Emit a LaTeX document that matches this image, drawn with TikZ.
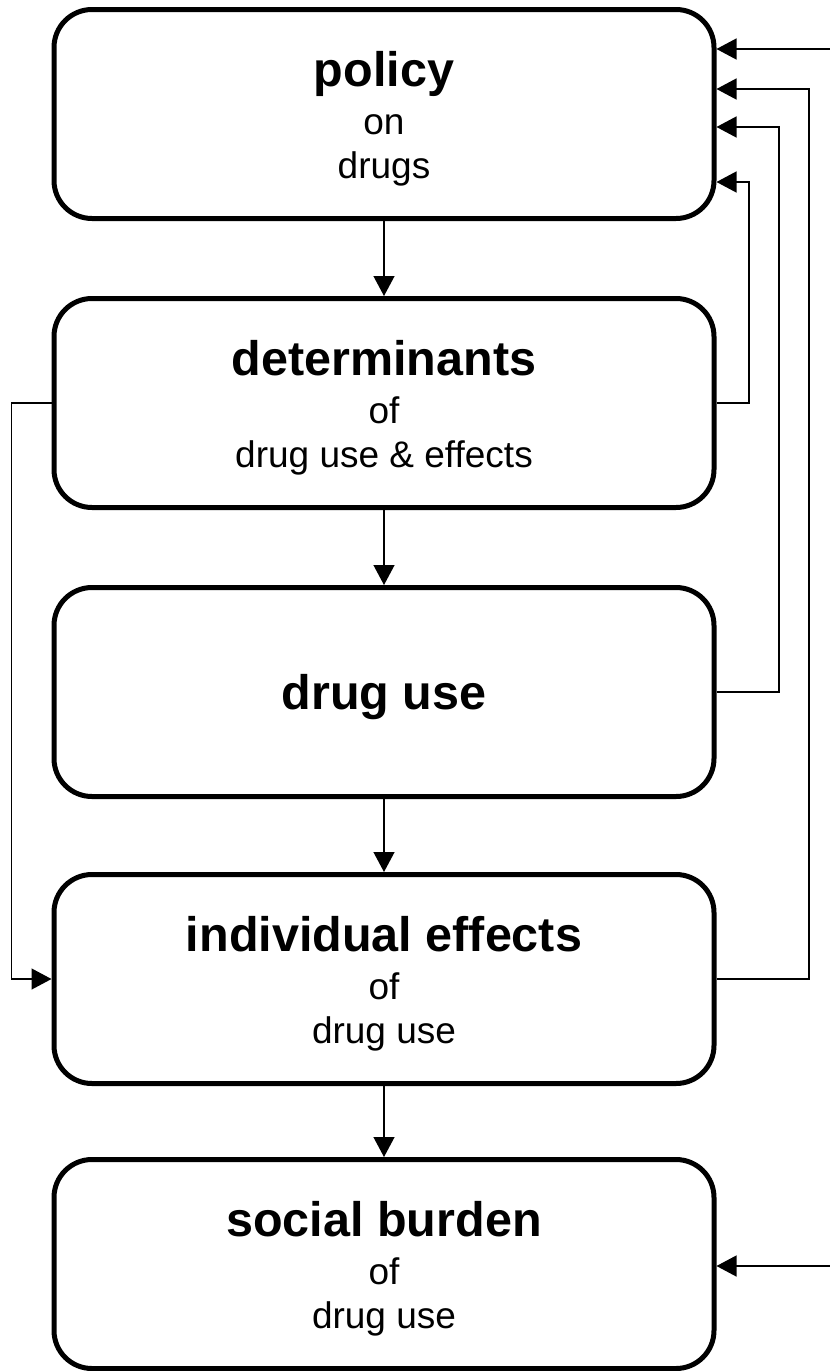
\documentclass[tikz,border=0pt]{standalone}
\usepackage{fontspec}
\setmainfont{Liberation Sans}
\usetikzlibrary{arrows.meta,positioning}

\newcommand{\boxhead}[1]{{\fontsize{48.5}{48}\selectfont\bfseries\rule{0pt}{45pt}#1}}

\begin{document}
\begin{tikzpicture}[
    x=1pt, y=1pt,
    block/.style={rectangle, draw, line width=5pt, rounded corners=38pt,
                  minimum width=660pt, minimum height=209pt,
                  align=center, font=\fontsize{37}{44}\selectfont},
    line/.style={draw, line width=1.3pt, -{Triangle[length=20pt,width=21pt]}}
]
\useasboundingbox (0,0) rectangle (830,-1371);

% Boxes
\node [block] (policy) at (384,-114) {\boxhead{policy}\\[4pt] on\\ drugs};
\node [block, below=75pt of policy] (determ) {\boxhead{determinants}\\[4pt] of\\ drug use \& effects};
\node [block, below=75pt of determ] (use) {\boxhead{drug use}};
\node [block, below=73pt of use] (effects) {\boxhead{individual effects}\\[4pt] of\\ drug use};
\node [block, below=71pt of effects] (burden) {\boxhead{social burden}\\[4pt] of\\ drug use};

% Free ends at the right margin
\coordinate (policyin) at (830,-49);
\coordinate (burdenin) at (830,-1266);

% Main chain
\draw [line] (policy) -- (determ);
\draw [line] (determ) -- (use);
\draw [line] (use) -- (effects);
\draw [line] (effects) -- (burden);

% Feedback to policy
\draw [line] (policyin) -- (policyin -| policy.east);
\draw [line] (effects.east) -- ++(92.5,0) |- ([yshift=25pt]policy.east);
\draw [line] (use.east) -- ++(62.5,0) |- ([yshift=-13pt]policy.east);
\draw [line] (determ.east) -- ++(32.5,0) |- ([yshift=-68pt]policy.east);

% Determinants straight to effects
\draw [line] (determ.west) -- ++(-40,0) |- (effects.west);

% Into social burden
\draw [line] (burdenin) -- (burdenin -| burden.east);

\end{tikzpicture}
\end{document}
